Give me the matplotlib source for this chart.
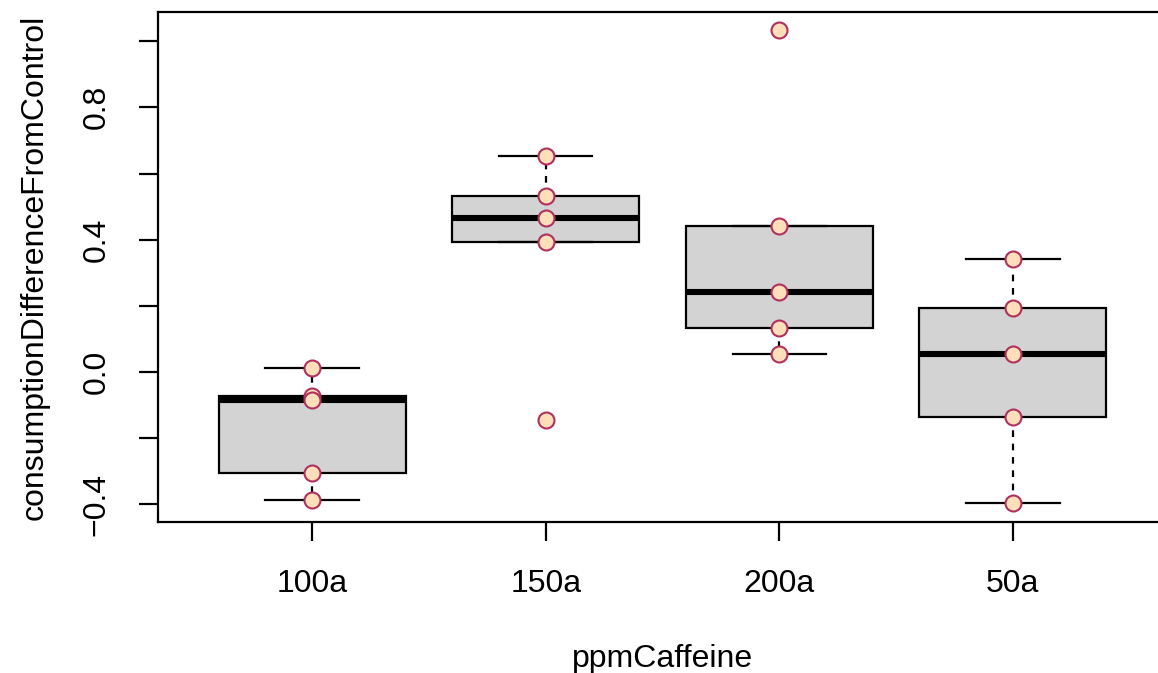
import matplotlib
matplotlib.use("Agg")
import matplotlib.pyplot as plt
import numpy as np

# caffeine groups (R factor order) and the consumption difference per replicate
groups = ["100a", "150a", "200a", "50a"]
vals_100a = [0.012, -0.072, -0.085, -0.305, -0.387]
vals_150a = [0.652, 0.532, 0.465, 0.393, -0.145]
vals_200a = [1.033, 0.441, 0.242, 0.133, 0.054]
vals_50a = [0.341, 0.193, 0.054, -0.136, -0.396]
data = [vals_100a, vals_150a, vals_200a, vals_50a]

y_ticks = [-0.4, -0.2, 0.0, 0.2, 0.4, 0.6, 0.8, 1.0]
y_labels = ["\u22120.4", "", "0.0", "", "0.4", "", "0.8", ""]

plt.rcParams["font.family"] = ["Liberation Sans", "DejaVu Sans"]

fig = plt.figure(figsize=(11.58, 6.73), dpi=100)
ax = fig.add_axes([158 / 1158, 151 / 673, 1009 / 1158, 510 / 673])

lw = 1.6
fs = 23
pos = np.arange(1, len(groups) + 1)
ax.boxplot(data, positions=pos, widths=0.8, whis=1.5, showfliers=False,
           patch_artist=True,
           boxprops=dict(facecolor="#d3d3d3", edgecolor="black", linewidth=lw),
           medianprops=dict(color="black", linewidth=4.4, solid_capstyle="butt"),
           whiskerprops=dict(color="black", linewidth=lw, linestyle=(0, (3, 3))),
           capprops=dict(color="black", linewidth=lw),
           capwidths=0.4)

# overlay the raw points
for i, v in enumerate(data):
    ax.plot(np.full(len(v), pos[i]), v, "o", ms=11.5, mfc="#ffdfba",
            mec="#b03060", mew=1.5, zorder=5, clip_on=False)

ax.set_xlim(0.34, 4.66)
ax.set_ylim(-0.453, 1.088)
ax.set_xticks(pos)
ax.set_xticklabels(groups, fontsize=fs)
ax.set_yticks(y_ticks)
ax.set_yticklabels(y_labels, fontsize=fs, rotation=90, va="center")
ax.tick_params(length=13.5, width=lw, pad=20, color="black")

for s in ax.spines.values():
    s.set_linewidth(lw)

fig.text(663 / 1158, 14 / 673, "ppmCaffeine", fontsize=fs,
         ha="center", va="center")
fig.text(35 / 1158, 1 - 267 / 673, "consumptionDifferenceFromControl",
         fontsize=fs, rotation=90, ha="center", va="center")

fig.savefig("out.png", dpi=100)
